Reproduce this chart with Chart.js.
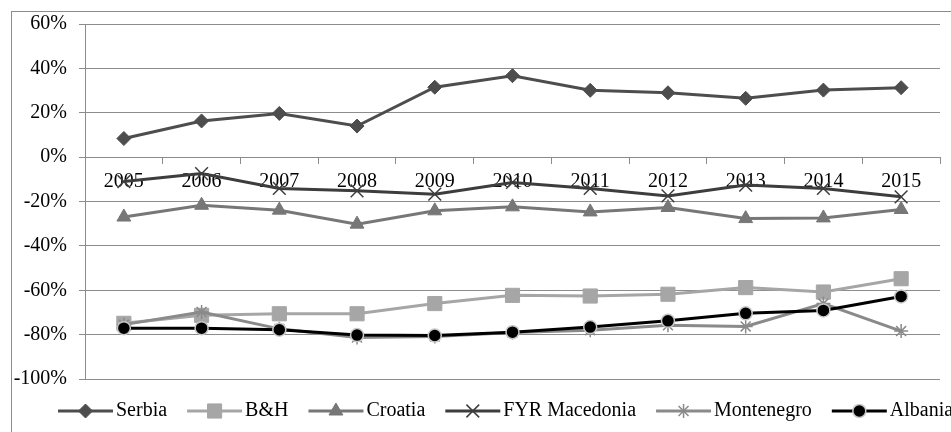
<!DOCTYPE html>
<html>
<head>
<meta charset="utf-8">
<script src="https://cdn.jsdelivr.net/npm/chart.js@4/dist/chart.umd.min.js"></script>
<style>
  html, body { margin: 0; padding: 0; background: #ffffff; }
  #wrap { width: 951px; height: 432px; position: relative; }
</style>
</head>
<body>
<div id="wrap"><canvas id="chart" width="951" height="432"></canvas></div>
<script>
// Years on the category axis
const years = ['2005', '2006', '2007', '2008', '2009', '2010', '2011', '2012', '2013', '2014', '2015'];

// Values per country, in percent
const serbia     = [8.4, 16.3, 19.7, 14.0, 31.5, 36.7, 30.1, 29.0, 26.5, 30.2, 31.3];
const bih        = [-74.9, -71.3, -70.6, -70.6, -66.0, -62.3, -62.6, -61.8, -58.8, -60.8, -54.8];
const croatia    = [-27.0, -21.7, -23.9, -30.2, -24.2, -22.4, -24.7, -22.7, -27.7, -27.4, -23.6];
const macedonia  = [-11.0, -7.4, -14.1, -15.2, -16.7, -11.4, -14.1, -17.5, -12.6, -14.1, -17.9];
const montenegro = [-75.5, -69.8, -77.4, -81.3, -80.8, -79.0, -78.0, -75.8, -76.3, -66.0, -78.4];
const albania    = [-77.1, -77.1, -77.8, -80.2, -80.4, -78.9, -76.6, -73.8, -70.4, -69.1, -62.8];

// Value axis range and step
const yMin = -100;
const yMax = 60;
const yStep = 20;

const FONT = '"Liberation Serif", "Times New Roman", serif';
const GRID = '#8c8c8c';

function series(label, data, color, style, radius, order, extra) {
  return Object.assign({
    label: label,
    data: data,
    borderColor: color,
    backgroundColor: color,
    borderWidth: 3,
    pointStyle: style,
    pointRadius: radius,
    pointHoverRadius: radius,
    pointBackgroundColor: color,
    pointBorderColor: color,
    pointBorderWidth: 1,
    tension: 0,
    fill: false,
    order: order
  }, extra || {});
}

const datasets = [
  series('Serbia', serbia, '#4d4d4d', 'rectRot', 7, 5),
  series('B&H', bih, '#a6a6a6', 'rect', 10, 4),
  series('Croatia', croatia, '#777777', 'triangle', 8, 3),
  series('FYR Macedonia', macedonia, '#3d3d3d', 'crossRot', 9, 2, { pointBorderWidth: 1.5 }),
  series('Montenegro', montenegro, '#8a8a8a', 'star', 7, 1, { pointBorderWidth: 1.5 }),
  series('Albania', albania, '#000000', 'circle', 6.5, 0, { pointBorderColor: '#c8c8c8', pointBorderWidth: 1.5 })
];

// Outer frame of the chart object
const framePlugin = {
  id: 'frame',
  beforeDraw(chart) {
    const ctx = chart.ctx;
    ctx.save();
    ctx.fillStyle = '#ffffff';
    ctx.fillRect(0, 0, chart.width, chart.height);
    ctx.strokeStyle = GRID;
    ctx.lineWidth = 1;
    ctx.strokeRect(11.5, 11.5, chart.width + 20, chart.height + 20);
    ctx.restore();
  }
};

// Legend with a line segment and the series marker for each entry
const lineLegend = {
  id: 'lineLegend',
  afterDraw(chart) {
    const ctx = chart.ctx;
    const helpers = Chart.helpers;
    ctx.save();
    ctx.font = '20px ' + FONT;
    ctx.textBaseline = 'middle';
    ctx.textAlign = 'left';
    const y = 411;
    let x = 58;
    const segment = 55;
    chart.data.datasets.forEach(ds => {
      ctx.strokeStyle = ds.borderColor;
      ctx.lineWidth = ds.borderWidth;
      ctx.beginPath();
      ctx.moveTo(x, y);
      ctx.lineTo(x + segment, y);
      ctx.stroke();
      ctx.fillStyle = ds.pointBackgroundColor;
      ctx.strokeStyle = ds.pointBorderColor;
      ctx.lineWidth = ds.pointBorderWidth;
      helpers.drawPoint(ctx, {
        pointStyle: ds.pointStyle,
        radius: ds.pointRadius,
        borderWidth: ds.pointBorderWidth,
        rotation: 0
      }, x + segment / 2, y);
      ctx.fillStyle = '#000000';
      ctx.fillText(ds.label, x + segment + 3, y);
      x += segment + 3 + ctx.measureText(ds.label).width + 20;
    });
    ctx.restore();
  }
};

new Chart(document.getElementById('chart'), {
  type: 'line',
  data: { labels: years, datasets: datasets },
  plugins: [framePlugin, lineLegend],
  options: {
    responsive: false,
    animation: false,
    devicePixelRatio: 1,
    layout: { padding: { left: 0, right: 2, top: 24, bottom: 53 } },
    plugins: {
      legend: { display: false },
      title: { display: false },
      tooltip: { enabled: false }
    },
    scales: {
      x: {
        type: 'category',
        position: { y: 0 },
        offset: true,
        grid: {
          display: true,
          drawOnChartArea: false,
          drawTicks: true,
          tickLength: 6,
          offset: true,
          color: GRID,
          lineWidth: 1
        },
        border: { display: true, color: GRID, width: 1 },
        ticks: {
          color: '#000000',
          font: { family: FONT, size: 20 },
          padding: 7,
          maxRotation: 0,
          autoSkip: false
        }
      },
      y: {
        min: yMin,
        max: yMax,
        afterFit(scale) { scale.width = 85; },
        grid: {
          color: GRID,
          lineWidth: 1,
          drawTicks: true,
          tickLength: 6
        },
        border: { display: true, color: GRID, width: 1 },
        ticks: {
          stepSize: yStep,
          color: '#000000',
          font: { family: FONT, size: 20 },
          padding: 12,
          callback: v => v + '%'
        }
      }
    }
  }
});
</script>
</body>
</html>
